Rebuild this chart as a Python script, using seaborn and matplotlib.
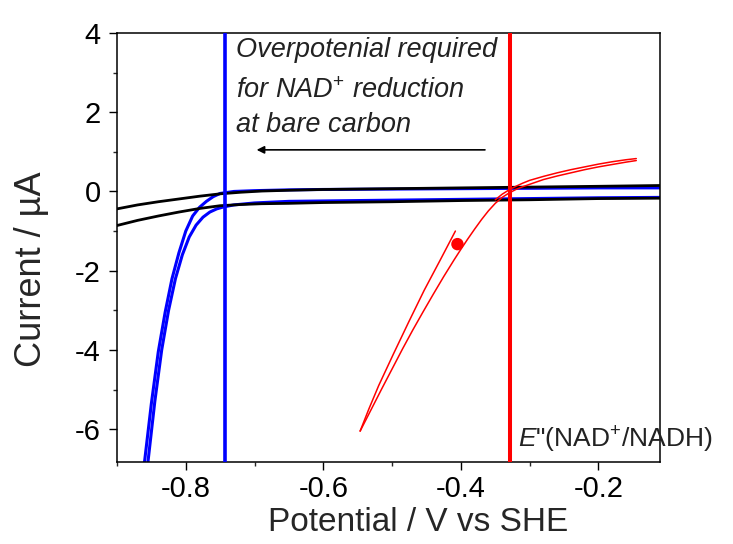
import numpy as np
import pandas as pd
import matplotlib
matplotlib.use("Agg")
import matplotlib.pyplot as plt
import seaborn as sns
from matplotlib.ticker import MultipleLocator

# ---------------- data ----------------
black_fwd_v = [-0.90, -0.87, -0.84, -0.81, -0.78, -0.75, -0.72, -0.69, -0.65, -0.60, -0.50, -0.40, -0.30, -0.20, -0.11]
black_fwd_i = [-0.44, -0.34, -0.26, -0.19, -0.12, -0.06, -0.02, 0.01, 0.03, 0.05, 0.07, 0.09, 0.11, 0.13, 0.15]
black_rev_v = [-0.90, -0.87, -0.84, -0.81, -0.78, -0.75, -0.72, -0.69, -0.65, -0.60, -0.50, -0.40, -0.30, -0.20, -0.11]
black_rev_i = [-0.86, -0.73, -0.62, -0.52, -0.43, -0.36, -0.33, -0.31, -0.30, -0.28, -0.26, -0.23, -0.21, -0.18, -0.17]

blue_up_v = [-0.860, -0.850, -0.840, -0.830, -0.820, -0.810, -0.800, -0.790, -0.780, -0.770,
             -0.760, -0.750, -0.730, -0.700, -0.650, -0.600, -0.500, -0.400, -0.300, -0.200, -0.110]
blue_up_i = [-6.83, -5.35, -4.05, -3.05, -2.20, -1.55, -1.00, -0.62, -0.40, -0.25,
             -0.13, -0.05, 0.00, 0.02, 0.04, 0.05, 0.06, 0.07, 0.08, 0.09, 0.09]
blue_lo_v = [-0.855, -0.845, -0.835, -0.825, -0.815, -0.805, -0.795, -0.785, -0.775, -0.765,
             -0.755, -0.745, -0.730, -0.700, -0.650, -0.600, -0.500, -0.400, -0.300, -0.200, -0.110]
blue_lo_i = [-6.83, -5.30, -4.00, -3.00, -2.20, -1.60, -1.15, -0.85, -0.65, -0.52,
             -0.44, -0.39, -0.34, -0.29, -0.25, -0.24, -0.22, -0.20, -0.18, -0.16, -0.15]

# red: left descending branch, right ascending branch, upper return branch
red_a_v = [-0.408, -0.430, -0.4535, -0.476, -0.498, -0.5195, -0.534, -0.5465]
red_a_i = [-1.00, -1.73, -2.50, -3.30, -4.10, -4.90, -5.50, -6.05]
red_b_v = [-0.5465, -0.530, -0.515, -0.500, -0.485, -0.470, -0.455, -0.440, -0.425, -0.410,
           -0.400, -0.390, -0.380, -0.370, -0.360, -0.350, -0.340, -0.330, -0.320, -0.310,
           -0.300, -0.280, -0.260, -0.240, -0.220, -0.200, -0.180, -0.160, -0.145]
red_b_i = [-6.05, -5.49, -4.98, -4.48, -3.98, -3.50, -3.04, -2.59, -2.15, -1.73,
           -1.46, -1.20, -0.95, -0.71, -0.49, -0.30, -0.15, -0.04, 0.05, 0.12,
           0.18, 0.30, 0.39, 0.47, 0.55, 0.62, 0.68, 0.74, 0.78]
red_c_v = [-0.145, -0.160, -0.180, -0.200, -0.220, -0.240, -0.260, -0.280, -0.300, -0.310,
           -0.320, -0.330, -0.340, -0.350]
red_c_i = [0.83, 0.80, 0.75, 0.69, 0.62, 0.55, 0.47, 0.38, 0.28, 0.21,
           0.13, 0.04, -0.07, -0.21]

dot_v = [-0.405]
dot_i = [-1.33]

e_bare = -0.743      # blue vertical line
e_formal = -0.329    # red vertical line

x_ticks = [-0.8, -0.6, -0.4, -0.2]
y_ticks = [-6, -4, -2, 0, 2, 4]

# ---------------- style ----------------
sns.set_style("ticks")
plt.rcParams['font.family'] = ['Liberation Sans', 'DejaVu Sans']
plt.rcParams['mathtext.fontset'] = 'custom'
plt.rcParams['mathtext.rm'] = 'Liberation Sans'
plt.rcParams['mathtext.it'] = 'Liberation Sans:italic'
plt.rcParams['mathtext.bf'] = 'Liberation Sans:bold'

fig = plt.figure(figsize=(7.33, 5.44), dpi=100)
ax = fig.add_axes([117/733, 1 - 462/544, (660-117)/733, (462-33)/544])

def df(v, i):
    return pd.DataFrame({"V": v, "I": i})

for v, i in [(blue_up_v, blue_up_i), (blue_lo_v, blue_lo_i)]:
    sns.lineplot(data=df(v, i), x="V", y="I", sort=False, color="#0000ff", lw=2.2, ax=ax, zorder=2)
for v, i in [(black_fwd_v, black_fwd_i), (black_rev_v, black_rev_i)]:
    sns.lineplot(data=df(v, i), x="V", y="I", sort=False, color="black", lw=2.0, ax=ax, zorder=3)
for v, i in [(red_a_v, red_a_i), (red_b_v, red_b_i), (red_c_v, red_c_i)]:
    sns.lineplot(data=df(v, i), x="V", y="I", sort=False, color="#ff0000", lw=1.1, ax=ax, zorder=4)
sns.scatterplot(data=df(dot_v, dot_i), x="V", y="I", color="#ff0000", s=80, edgecolor="none", ax=ax, zorder=5)

ax.axvline(e_bare, color="#0000ff", lw=2.6, zorder=6)
ax.axvline(e_formal, color="#ff0000", lw=2.9, zorder=6)

ax.set_xlim(-0.90, -0.1105)
ax.set_ylim(-6.83, 4.0)
ax.set_xticks(x_ticks)
ax.set_xticklabels([f"{t:.1f}" for t in x_ticks])
ax.set_yticks(y_ticks)
ax.set_yticklabels([str(t) for t in y_ticks])
ax.xaxis.set_minor_locator(MultipleLocator(0.1))
ax.yaxis.set_minor_locator(MultipleLocator(1))
ax.tick_params(which='major', direction='out', length=5.6, width=1.0, labelsize=21, colors='black')
ax.tick_params(which='minor', direction='out', length=3.2, width=1.0)
ax.tick_params(axis='y', which='major', pad=6.0)
ax.tick_params(axis='x', which='major', pad=4.0)
ax.tick_params(top=False, right=False, which='both')
for s in ax.spines.values():
    s.set_visible(True)
    s.set_linewidth(1.1)
    s.set_color('black')

ax.set_xlabel("Potential / V vs SHE", fontsize=24)
ax.set_ylabel("Current / µA", fontsize=26)
ax.xaxis.set_label_coords(0.554, -0.104)
ax.yaxis.set_label_coords(-0.125, 0.45)

tx = -0.727
tcol = '#222222'
ax.text(tx, 3.39, "Overpotenial required", fontsize=19.5, style='italic', va='baseline', ha='left', color=tcol)
ax.text(tx, 2.36, r"for NAD$^{+}$ reduction", fontsize=19.5, style='italic', va='baseline', ha='left', color=tcol)
ax.text(tx, 1.50, "at bare carbon", fontsize=19.5, style='italic', va='baseline', ha='left', color=tcol)
ax.annotate("", xy=(-0.697, 1.05), xytext=(-0.365, 1.05),
            arrowprops=dict(arrowstyle='-|>', lw=1.2, color='black', mutation_scale=11, shrinkA=0, shrinkB=0))

ax.text(-0.317, -6.28, r'$\mathit{E}$"(NAD$^{+}$/NADH)', fontsize=19, va='center', ha='left',
        color=tcol, clip_on=False)

fig.savefig("out.png", dpi=100)
